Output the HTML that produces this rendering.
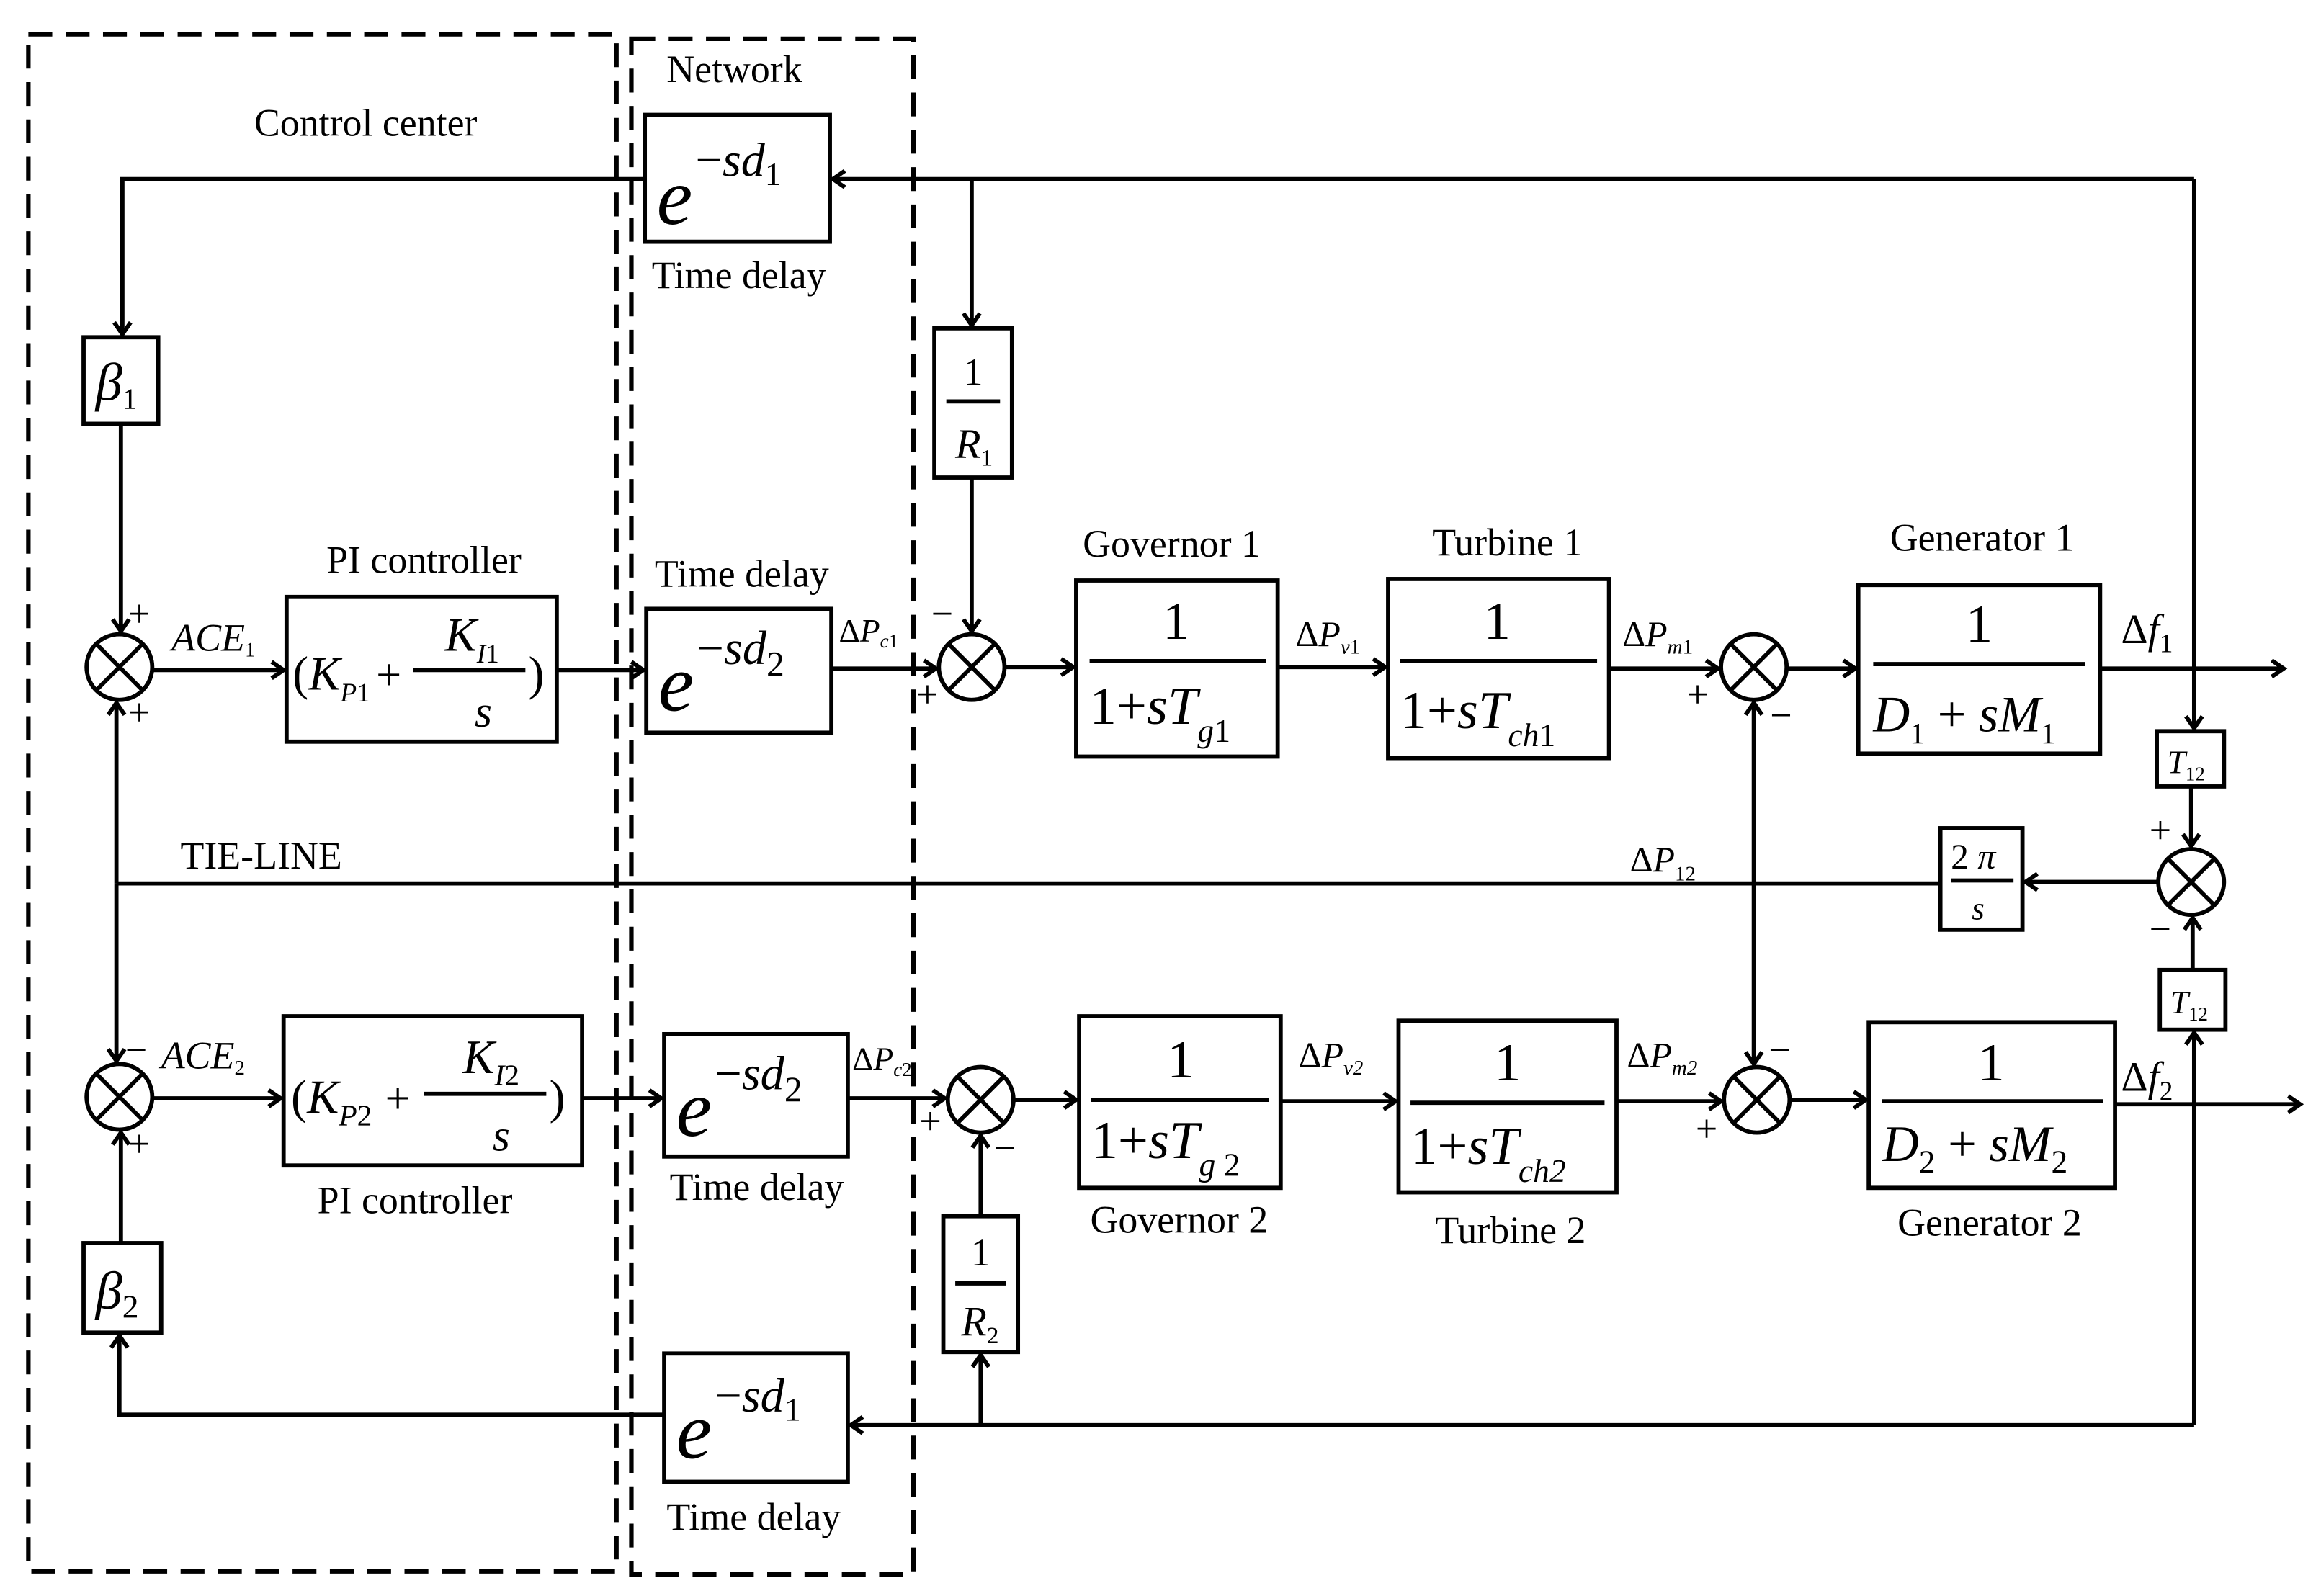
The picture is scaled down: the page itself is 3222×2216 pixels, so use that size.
<!DOCTYPE html>
<html><head><meta charset="utf-8"><style>
html,body{margin:0;padding:0;background:#fff;}
svg{display:block;}
text{font-family:"Liberation Serif",serif;fill:#000;}
.l{font-size:26px;}
.i{font-style:italic;}
</style></head><body>
<svg width="3222" height="2216" viewBox="0 0 1555 1069.5" preserveAspectRatio="none" xmlns="http://www.w3.org/2000/svg">
<defs>
<marker id="a" markerWidth="14" markerHeight="14" refX="11" refY="7" orient="auto" markerUnits="userSpaceOnUse">
<polyline points="3,1.5 11,7 3,12.5" fill="none" stroke="#000" stroke-width="2.8"/>
</marker>
</defs>
<g fill="none" stroke="#000" stroke-width="3" stroke-dasharray="16,9">
<rect x="19" y="23" width="394" height="1030"/>
<rect x="423" y="26" width="189" height="1029"/>
</g>
<g fill="none" stroke="#000" stroke-width="2.8">
<rect x="432" y="77" width="124" height="85"/>
<rect x="56" y="226" width="50" height="58"/>
<rect x="626" y="220" width="52" height="100"/>
<rect x="192" y="400" width="181" height="97"/>
<rect x="433" y="408" width="124" height="83"/>
<rect x="721" y="389" width="135" height="118"/>
<rect x="930" y="388" width="148" height="120"/>
<rect x="1245" y="392" width="162" height="113"/>
<rect x="1445" y="490" width="45" height="37"/>
<rect x="1300" y="555" width="55" height="68"/>
<rect x="1447" y="650" width="44" height="40"/>
<rect x="190" y="681" width="200" height="100"/>
<rect x="445" y="693" width="123" height="82"/>
<rect x="723" y="681" width="135" height="115"/>
<rect x="937" y="684" width="146" height="115"/>
<rect x="1252" y="685" width="165" height="111"/>
<rect x="56" y="833" width="52" height="60"/>
<rect x="632" y="815" width="50" height="91"/>
<rect x="445" y="907" width="123" height="86"/>
<circle cx="80" cy="447" r="22"/>
<circle cx="651" cy="447" r="22"/>
<circle cx="1175" cy="447" r="22"/>
<circle cx="1468" cy="591" r="22"/>
<circle cx="80" cy="735" r="22"/>
<circle cx="657" cy="737" r="22"/>
<circle cx="1177" cy="737" r="22"/>
</g>
<g stroke="#000" stroke-width="2.8">
<path d="M65,432 l30,30 M95,432 l-30,30"/>
<path d="M636,432 l30,30 M666,432 l-30,30"/>
<path d="M1160,432 l30,30 M1190,432 l-30,30"/>
<path d="M1453,576 l30,30 M1483,576 l-30,30"/>
<path d="M65,720 l30,30 M95,720 l-30,30"/>
<path d="M642,722 l30,30 M672,722 l-30,30"/>
<path d="M1162,722 l30,30 M1192,722 l-30,30"/>
<line x1="277" y1="449" x2="352" y2="449"/>
<line x1="634" y1="269" x2="670" y2="269"/>
<line x1="730" y1="443" x2="848" y2="443"/>
<line x1="938" y1="443" x2="1070" y2="443"/>
<line x1="1255" y1="445" x2="1397" y2="445"/>
<line x1="1307" y1="590" x2="1349" y2="590"/>
<line x1="284" y1="733" x2="366" y2="733"/>
<line x1="731" y1="737" x2="850" y2="737"/>
<line x1="945" y1="739" x2="1075" y2="739"/>
<line x1="1261" y1="738" x2="1409" y2="738"/>
<line x1="640" y1="860" x2="674" y2="860"/>
</g>
<g fill="none" stroke="#000" stroke-width="2.8">
<path d="M1470,120 H558" marker-end="url(#a)"/>
<path d="M432,120 H82 V224" marker-end="url(#a)"/>
<path d="M651,120 V218" marker-end="url(#a)"/>
<path d="M651,320 V423" marker-end="url(#a)"/>
<path d="M1470,120 V488" marker-end="url(#a)"/>
<path d="M1468,527 V567" marker-end="url(#a)"/>
<path d="M81,284 V423" marker-end="url(#a)"/>
<path d="M102,449 H190" marker-end="url(#a)"/>
<path d="M373,449 H431" marker-end="url(#a)"/>
<path d="M557,448 H627" marker-end="url(#a)"/>
<path d="M673,447 H719" marker-end="url(#a)"/>
<path d="M856,447 H928" marker-end="url(#a)"/>
<path d="M1078,448 H1151" marker-end="url(#a)"/>
<path d="M1197,448 H1243" marker-end="url(#a)"/>
<path d="M1407,448 H1530" marker-end="url(#a)"/>
<path d="M1175,592 V471" marker-end="url(#a)"/>
<path d="M1175,592 V713" marker-end="url(#a)"/>
<path d="M78,592 V471" marker-end="url(#a)"/>
<path d="M78,592 V711" marker-end="url(#a)"/>
<path d="M78,592 H1300"/>
<path d="M1446,591 H1357" marker-end="url(#a)"/>
<path d="M1469,650 V615" marker-end="url(#a)"/>
<path d="M1470,955 V692" marker-end="url(#a)"/>
<path d="M102,736 H188" marker-end="url(#a)"/>
<path d="M390,736 H443" marker-end="url(#a)"/>
<path d="M568,736 H633" marker-end="url(#a)"/>
<path d="M679,737 H721" marker-end="url(#a)"/>
<path d="M858,738 H935" marker-end="url(#a)"/>
<path d="M1083,738 H1153" marker-end="url(#a)"/>
<path d="M1199,737 H1250" marker-end="url(#a)"/>
<path d="M1417,740 H1541" marker-end="url(#a)"/>
<path d="M1470,955 H570" marker-end="url(#a)"/>
<path d="M445,948 H80 V895" marker-end="url(#a)"/>
<path d="M81,833 V759" marker-end="url(#a)"/>
<path d="M657,955 V908" marker-end="url(#a)"/>
<path d="M657,815 V761" marker-end="url(#a)"/>
</g>
<text class="l" x="245" y="91" text-anchor="middle">Control center</text>
<text class="l" x="492" y="55" text-anchor="middle">Network</text>
<text class="l" x="495" y="193" text-anchor="middle">Time delay</text>
<text class="l" x="497" y="393" text-anchor="middle">Time delay</text>
<text class="l" x="284" y="384" text-anchor="middle">PI controller</text>
<text class="l" x="785" y="373" text-anchor="middle">Governor 1</text>
<text class="l" x="1010" y="372" text-anchor="middle">Turbine 1</text>
<text class="l" x="1328" y="369" text-anchor="middle">Generator 1</text>
<text class="l" x="175" y="582" text-anchor="middle">TIE-LINE</text>
<text class="l" x="278" y="813" text-anchor="middle">PI controller</text>
<text class="l" x="507" y="804" text-anchor="middle">Time delay</text>
<text class="l" x="790" y="826" text-anchor="middle">Governor 2</text>
<text class="l" x="1012" y="833" text-anchor="middle">Turbine 2</text>
<text class="l" x="1333" y="828" text-anchor="middle">Generator 2</text>
<text class="l" x="505" y="1025" text-anchor="middle">Time delay</text>
<text x="440" y="150" class="i" font-size="54">e</text><text x="466" y="118" class="i" font-size="32"><tspan font-style="normal">−</tspan>sd<tspan font-style="normal" font-size="22" dy="6">1</tspan></text>
<text x="441" y="476" class="i" font-size="54">e</text><text x="467" y="445" class="i" font-size="32"><tspan font-style="normal">−</tspan>sd<tspan font-style="normal" font-size="24" dy="8">2</tspan></text>
<text x="453" y="761" class="i" font-size="54">e</text><text x="479" y="730" class="i" font-size="32"><tspan font-style="normal">−</tspan>sd<tspan font-style="normal" font-size="24" dy="8">2</tspan></text>
<text x="453" y="977" class="i" font-size="54">e</text><text x="479" y="946" class="i" font-size="32"><tspan font-style="normal">−</tspan>sd<tspan font-style="normal" font-size="22" dy="6">1</tspan></text>
<text x="64" y="268" class="i" font-size="36">β<tspan font-style="normal" font-size="20" dy="6">1</tspan></text>
<text x="64" y="877" class="i" font-size="36">β<tspan font-style="normal" font-size="22" dy="6">2</tspan></text>
<text x="652" y="258" font-size="26" text-anchor="middle">1</text>
<text x="640" y="307" class="i" font-size="28">R<tspan font-style="normal" font-size="16" dy="5">1</tspan></text>
<text x="657" y="848" font-size="26" text-anchor="middle">1</text>
<text x="644" y="895" class="i" font-size="28">R<tspan font-style="normal" font-size="16" dy="5">2</tspan></text>
<text x="196" y="462" font-size="32">(<tspan class="i">K</tspan><tspan font-size="18" class="i" dy="8">P</tspan><tspan font-size="18">1</tspan></text>
<text x="252" y="462" font-size="30">+</text>
<text x="298" y="436" class="i" font-size="32">K<tspan font-size="18" dy="8">I</tspan><tspan font-size="18" font-style="normal">1</tspan></text>
<text x="318" y="487" class="i" font-size="30">s</text>
<text x="354" y="462" font-size="32">)</text>
<text x="195" y="746" font-size="32">(<tspan class="i">K</tspan><tspan font-size="20" class="i" dy="8">P</tspan><tspan font-size="20">2</tspan></text>
<text x="258" y="746" font-size="30">+</text>
<text x="310" y="719" class="i" font-size="32">K<tspan font-size="20" dy="8">I</tspan><tspan font-size="20" font-style="normal">2</tspan></text>
<text x="330" y="771" class="i" font-size="30">s</text>
<text x="368" y="746" font-size="32">)</text>
<text x="788" y="428" font-size="36" text-anchor="middle">1</text>
<text x="730" y="485" font-size="36">1+<tspan class="i">sT</tspan><tspan class="i" font-size="22" dy="12">g</tspan><tspan font-size="22">1</tspan></text>
<text x="1003" y="428" font-size="36" text-anchor="middle">1</text>
<text x="938" y="488" font-size="36">1+<tspan class="i">sT</tspan><tspan class="i" font-size="22" dy="12">ch</tspan><tspan font-size="22">1</tspan></text>
<text x="1326" y="430" font-size="36" text-anchor="middle">1</text>
<text x="1255" y="490" font-size="34"><tspan class="i">D</tspan><tspan font-size="20" dy="8">1</tspan><tspan dy="-8"> + </tspan><tspan class="i">sM</tspan><tspan font-size="20" dy="8">1</tspan></text>
<text x="791" y="722" font-size="36" text-anchor="middle">1</text>
<text x="731" y="776" font-size="36">1+<tspan class="i">sT</tspan><tspan class="i" font-size="22" dy="12">g</tspan><tspan font-size="22"> 2</tspan></text>
<text x="1010" y="724" font-size="36" text-anchor="middle">1</text>
<text x="945" y="780" font-size="36">1+<tspan class="i">sT</tspan><tspan class="i" font-size="22" dy="12">ch</tspan><tspan class="i" font-size="22">2</tspan></text>
<text x="1334" y="724" font-size="36" text-anchor="middle">1</text>
<text x="1261" y="778" font-size="34"><tspan class="i">D</tspan><tspan font-size="22" dy="8">2</tspan><tspan dy="-8"> + </tspan><tspan class="i">sM</tspan><tspan font-size="22" dy="8">2</tspan></text>
<text x="1452" y="518" class="i" font-size="22">T<tspan font-style="normal" font-size="13" dy="5">12</tspan></text>
<text x="1454" y="679" class="i" font-size="22">T<tspan font-style="normal" font-size="13" dy="5">12</tspan></text>
<text x="1307" y="582" font-size="24">2<tspan class="i"> π</tspan></text>
<text x="1321" y="616" class="i" font-size="22">s</text>
<text x="115" y="436" class="i" font-size="26">ACE<tspan font-style="normal" font-size="14" dy="4">1</tspan></text>
<text x="108" y="716" class="i" font-size="26">ACE<tspan font-style="normal" font-size="14" dy="4">2</tspan></text>
<text x="562" y="430" font-size="22">Δ<tspan class="i">P</tspan><tspan class="i" font-size="13" dy="4">c</tspan><tspan font-size="13">1</tspan></text>
<text x="571" y="717" font-size="22">Δ<tspan class="i">P</tspan><tspan class="i" font-size="13" dy="4">c</tspan><tspan font-size="13">2</tspan></text>
<text x="868" y="433" font-size="24">Δ<tspan class="i">P</tspan><tspan class="i" font-size="14" dy="5">v</tspan><tspan font-size="14">1</tspan></text>
<text x="870" y="715" font-size="24">Δ<tspan class="i">P</tspan><tspan class="i" font-size="14" dy="5">v</tspan><tspan class="i" font-size="14">2</tspan></text>
<text x="1087" y="433" font-size="24">Δ<tspan class="i">P</tspan><tspan class="i" font-size="14" dy="5">m</tspan><tspan font-size="14">1</tspan></text>
<text x="1090" y="715" font-size="24">Δ<tspan class="i">P</tspan><tspan class="i" font-size="14" dy="5">m</tspan><tspan class="i" font-size="14">2</tspan></text>
<text x="1092" y="584" font-size="24">Δ<tspan class="i">P</tspan><tspan font-size="14" dy="6">12</tspan></text>
<text x="1421" y="431" font-size="28">Δ<tspan class="i">f</tspan><tspan font-size="18" dy="6">1</tspan></text>
<text x="1421" y="731" font-size="28">Δ<tspan class="i">f</tspan><tspan font-size="18" dy="6">2</tspan></text>
<g font-size="26">
<text x="86" y="420">+</text><text x="86" y="486">+</text>
<text x="84" y="712">−</text><text x="86" y="775">+</text>
<text x="624" y="420">−</text><text x="614" y="474">+</text>
<text x="616" y="760">+</text><text x="666" y="778">−</text>
<text x="1130" y="474">+</text><text x="1186" y="488">−</text>
<text x="1185" y="712">−</text><text x="1136" y="765">+</text>
<text x="1440" y="565">+</text><text x="1440" y="631">−</text>
</g>
</svg>
</body></html>
